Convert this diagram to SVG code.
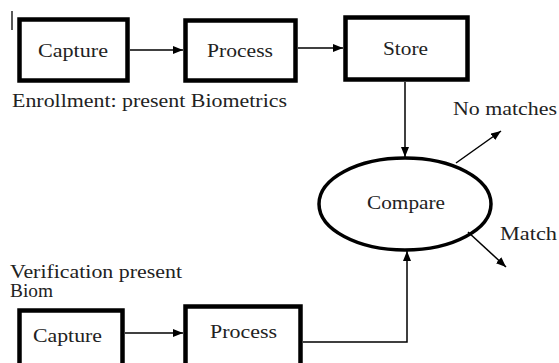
<svg xmlns="http://www.w3.org/2000/svg" width="559" height="363" viewBox="0 0 559 363">
<style>
.box{fill:#fff;stroke:#000;stroke-width:4.5}
.ell{fill:#fff;stroke:#000;stroke-width:3.5}
text{font-family:'Liberation Serif','DejaVu Serif',serif;font-size:18px;fill:#222}
.c{stroke:#000;stroke-width:1.5;fill:none}
</style>
<defs>
<marker id="ah" viewBox="0 0 10 8" refX="10" refY="4" markerWidth="10" markerHeight="8" markerUnits="userSpaceOnUse" orient="auto">
<path d="M0,0 L10,4 L0,8 Z" fill="#000"/>
</marker>
</defs>
<rect width="559" height="363" fill="#fff"/>
<line x1="12" y1="11" x2="12" y2="30" stroke="#000" stroke-width="1.3"/>
<g id="capture1"><rect class="box" x="19.5" y="19.5" width="108" height="61"/><text font-family="Liberation Serif, serif" x="38" y="57" textLength="70" lengthAdjust="spacingAndGlyphs">Capture</text></g>
<g id="process1"><rect class="box" x="185.5" y="20.5" width="110" height="60"/><text font-family="Liberation Serif, serif" x="207" y="57" textLength="66" lengthAdjust="spacingAndGlyphs">Process</text></g>
<g id="store"><rect class="box" x="345.5" y="17.5" width="122" height="62"/><text font-family="Liberation Serif, serif" x="383" y="55" textLength="45" lengthAdjust="spacingAndGlyphs">Store</text></g>
<g id="compare"><ellipse class="ell" cx="405" cy="204" rx="86" ry="46"/><text font-family="Liberation Serif, serif" x="367" y="209" textLength="78" lengthAdjust="spacingAndGlyphs">Compare</text></g>
<g id="capture2"><rect class="box" x="19.5" y="310.5" width="103" height="62"/><text font-family="Liberation Serif, serif" x="33" y="342" textLength="69" lengthAdjust="spacingAndGlyphs">Capture</text></g>
<g id="process2"><rect class="box" x="185.5" y="306.5" width="115" height="70"/><text font-family="Liberation Serif, serif" x="210" y="338" textLength="67" lengthAdjust="spacingAndGlyphs">Process</text></g>
<g id="labels" font-family="Liberation Serif, serif">
<text x="12" y="107" textLength="275" lengthAdjust="spacingAndGlyphs">Enrollment: present Biometrics</text>
<text x="453" y="115" textLength="104" lengthAdjust="spacingAndGlyphs">No matches</text>
<text x="500" y="240" textLength="57" lengthAdjust="spacingAndGlyphs">Match</text>
<text x="10" y="278" textLength="172" lengthAdjust="spacingAndGlyphs">Verification present</text>
<text x="10" y="297" textLength="43" lengthAdjust="spacingAndGlyphs">Biom</text>
</g>
<g id="connectors">
<line class="c" x1="130" y1="50" x2="183" y2="50" marker-end="url(#ah)"/>
<line class="c" x1="298" y1="48" x2="343" y2="48" marker-end="url(#ah)"/>
<line class="c" x1="405" y1="82" x2="405" y2="157" marker-end="url(#ah)"/>
<line class="c" x1="456" y1="163" x2="501" y2="131" marker-end="url(#ah)"/>
<line class="c" x1="468" y1="232" x2="506" y2="267" marker-end="url(#ah)"/>
<line class="c" x1="125" y1="333" x2="183" y2="333" marker-end="url(#ah)"/>
<polyline class="c" points="303,342 407,342 407,251" marker-end="url(#ah)"/>
</g>
</svg>
